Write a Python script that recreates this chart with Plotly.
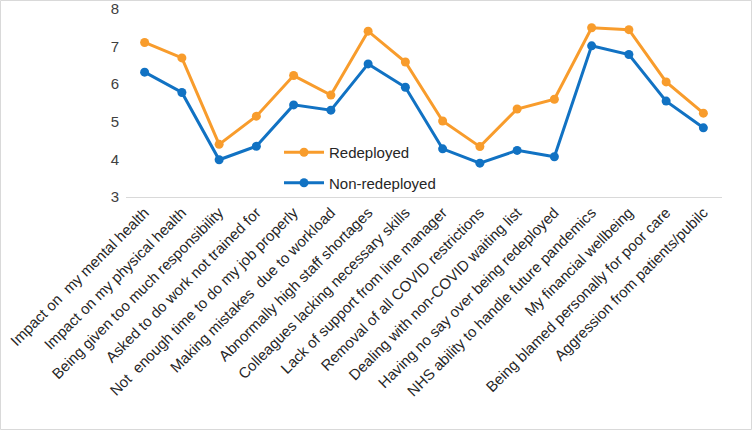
import plotly.graph_objects as go

categories = [
    "Impact on  my mental health",
    "Impact on my physical health",
    "Being given too much responsibility",
    "Asked to do work not trained for",
    "Not  enough time to do my job properly",
    "Making mistakes  due to workload",
    "Abnormally high staff shortages",
    "Colleagues lacking necessary skills",
    "Lack of support from line manager",
    "Removal of all COVID restrictions",
    "Dealing with non-COVID waiting list",
    "Having no say over being redeployed",
    "NHS ability to handle future pandemics",
    "My financial wellbeing",
    "Being blamed personally for poor care",
    "Aggression from patients/pubilc",
]

redeployed = [7.11, 6.70, 4.40, 5.15, 6.23, 5.71, 7.41, 6.59, 5.02, 4.34,
              5.34, 5.60, 7.50, 7.45, 6.06, 5.23]
non_redeployed = [6.32, 5.78, 3.99, 4.35, 5.45, 5.31, 6.54, 5.92, 4.28, 3.90,
                  4.24, 4.07, 7.02, 6.79, 5.55, 4.84]

ORANGE = "#F89C2C"
BLUE = "#1172C3"

fig = go.Figure()
fig.add_trace(go.Scatter(
    x=categories, y=redeployed, name="Redeployed", mode="lines+markers",
    line=dict(color=ORANGE, width=3), marker=dict(color=ORANGE, size=9),
    legendgroup="a",
))
fig.add_trace(go.Scatter(
    x=categories, y=non_redeployed, name="Non-redeployed", mode="lines+markers",
    line=dict(color=BLUE, width=3), marker=dict(color=BLUE, size=9),
    legendgroup="b",
))

W, H = 753, 431
ml, mr, mt, mb = 126, 31, 9, 234
pw, ph = W - ml - mr, H - mt - mb

def px_to_paper_x(px):
    return (px - ml) / pw

def px_to_paper_y(py):
    return 1 - (py - mt) / ph

fig.update_layout(
    width=W, height=H,
    margin=dict(l=ml, r=mr, t=mt, b=mb, autoexpand=False),
    paper_bgcolor="white", plot_bgcolor="white",
    font=dict(family="Liberation Sans, Arial, sans-serif", color="#262626"),
    showlegend=True,
    legend=dict(
        x=px_to_paper_x(279), y=px_to_paper_y(136), xanchor="left", yanchor="top",
        font=dict(size=15, color="#262626"), bgcolor="rgba(0,0,0,0)",
        traceorder="grouped", tracegroupgap=8, itemwidth=40,
    ),
    xaxis=dict(
        showgrid=False, showline=True, linecolor="#D9D9D9", linewidth=1,
        ticks="", tickangle=-45, tickfont=dict(size=15, color="#262626"),
        range=[-0.5, len(categories) - 0.5], fixedrange=True, automargin=False,
    ),
    yaxis=dict(
        range=[3, 8], dtick=1, showgrid=False, showline=False, zeroline=False,
        ticks="", tickfont=dict(size=15, color="#404040"), ticklabelstandoff=6,
        fixedrange=True, automargin=False,
    ),
    shapes=[dict(
        type="rect", xref="paper", yref="paper",
        x0=px_to_paper_x(0.5), x1=px_to_paper_x(751.5),
        y0=px_to_paper_y(429.5), y1=px_to_paper_y(0.5),
        line=dict(color="#D9D9D9", width=1), fillcolor="rgba(0,0,0,0)",
        layer="below",
    )],
)

fig.write_html("out.html")
